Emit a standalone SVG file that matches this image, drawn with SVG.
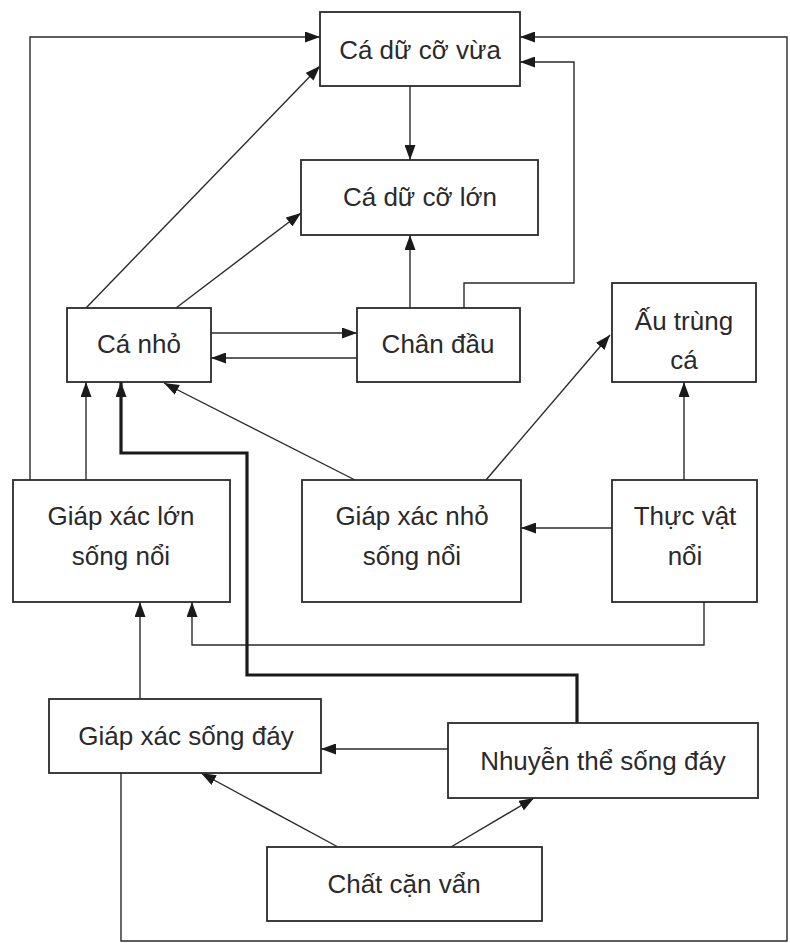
<svg xmlns="http://www.w3.org/2000/svg" width="790" height="943" viewBox="0 0 790 943">
<defs>
<style>
.box{fill:#fff;stroke:#2a2a2a;stroke-width:1.8}
.lbl{font-family:"Liberation Sans",Arial,sans-serif;font-size:26px;fill:#2a2a2a;text-anchor:middle}
.c{fill:none;stroke:#2a2a2a;stroke-width:1.4;marker-end:url(#ah)}
.thick{fill:none;stroke:#1a1a1a;stroke-width:3.2;marker-end:url(#ah)}
</style>
<marker id="ah" markerUnits="userSpaceOnUse" markerWidth="15" markerHeight="11" refX="15" refY="5.5" orient="auto">
<path d="M0,0 L15,5.5 L0,11 z" fill="#1a1a1a"/>
</marker>
</defs>
<rect width="790" height="943" fill="#fff"/>
<g id="connectors">
<path class="c" d="M30,480 V37 H320"/>
<path class="c" d="M121,773 V941 H787 V37 H520"/>
<path class="c" d="M464,308 V283 H574 V62 H520"/>
<path class="c" d="M410,86 V160"/>
<path class="c" d="M410,308 V235"/>
<path class="c" d="M86,308 L320,66"/>
<path class="c" d="M176,308 L301,213"/>
<path class="c" d="M211,333 H357"/>
<path class="c" d="M357,358 H211"/>
<path class="c" d="M86,480 V382"/>
<path class="c" d="M355,480 L164,383"/>
<path class="c" d="M486,480 L610,335"/>
<path class="c" d="M684,480 V382"/>
<path class="c" d="M612,528 H521"/>
<path class="c" d="M704,602 V645 H192 V602"/>
<path class="c" d="M140,699 V602"/>
<path class="thick" d="M577,723 V675 H247 V453 H121 V382"/>
<path class="c" d="M448,749 H321"/>
<path class="c" d="M338,847 L201,773"/>
<path class="c" d="M451,847 L534,798"/>
</g>
<g id="ca-du-co-vua"><rect class="box" x="320" y="12" width="200" height="74"/><text class="lbl" x="420" y="59">Cá dữ cỡ vừa</text></g>
<g id="ca-du-co-lon"><rect class="box" x="301" y="160" width="237" height="75"/><text class="lbl" x="420" y="206">Cá dữ cỡ lớn</text></g>
<g id="ca-nho"><rect class="box" x="67" y="308" width="144" height="74"/><text class="lbl" x="139" y="353">Cá nhỏ</text></g>
<g id="chan-dau"><rect class="box" x="357" y="308" width="163" height="74"/><text class="lbl" x="438" y="353">Chân đầu</text></g>
<g id="au-trung-ca"><rect class="box" x="612" y="283" width="144" height="99"/><text class="lbl" x="684" y="330">Ấu trùng</text><text class="lbl" x="684" y="369">cá</text></g>
<g id="giap-xac-lon"><rect class="box" x="13" y="480" width="217" height="122"/><text class="lbl" x="121" y="525">Giáp xác lớn</text><text class="lbl" x="121" y="565">sống nổi</text></g>
<g id="giap-xac-nho"><rect class="box" x="302" y="480" width="219" height="122"/><text class="lbl" x="412" y="525">Giáp xác nhỏ</text><text class="lbl" x="412" y="565">sống nổi</text></g>
<g id="thuc-vat-noi"><rect class="box" x="612" y="480" width="145" height="122"/><text class="lbl" x="685" y="525">Thực vật</text><text class="lbl" x="685" y="565">nổi</text></g>
<g id="giap-xac-song-day"><rect class="box" x="49" y="699" width="272" height="74"/><text class="lbl" x="186" y="745">Giáp xác sống đáy</text></g>
<g id="nhuyen-the-song-day"><rect class="box" x="448" y="723" width="310" height="75"/><text class="lbl" x="603" y="770">Nhuyễn thể sống đáy</text></g>
<g id="chat-can-van"><rect class="box" x="267" y="847" width="275" height="74"/><text class="lbl" x="404" y="893">Chất cặn vẩn</text></g>
</svg>
